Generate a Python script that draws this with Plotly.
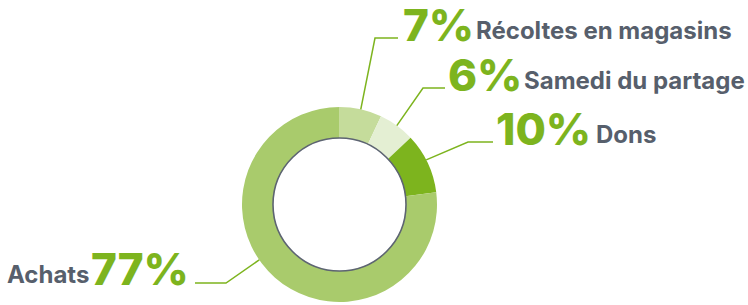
import math
import plotly.graph_objects as go

# ---- data ----
categories = ["Récoltes en magasins", "Samedi du partage", "Dons", "Achats"]
values = [7, 6, 10, 77]
pct_labels = ["7%", "6%", "10%", "77%"]
colors = ["#c5dc9b", "#e4efd3", "#7db41e", "#a9cb6c"]

W, H = 748, 305
CX, CY, R_OUT, R_IN = 339.5, 204.5, 97.5, 66.5
GREEN = "#7db41e"
GRAY = "#575f6c"

def px(x):
    return x / W

def py(y):
    return 1 - y / H

fig = go.Figure(go.Pie(
    values=values, labels=categories, sort=False, direction="clockwise",
    rotation=0, hole=R_IN / R_OUT, marker=dict(colors=colors, line=dict(width=0)),
    textinfo="none", hoverinfo="label+percent", showlegend=False,
    domain=dict(x=[px(CX - R_OUT), px(CX + R_OUT)], y=[py(CY + R_OUT), py(CY - R_OUT)]),
))

# inner outline
fig.add_shape(type="circle", xref="paper", yref="paper",
              x0=px(CX - R_IN), x1=px(CX + R_IN), y0=py(CY + R_IN), y1=py(CY - R_IN),
              line=dict(color="#5d6472", width=1.6), fillcolor="rgba(0,0,0,0)")

# label layout: elbow point, end of horizontal, text positions
label_layout = [
    dict(elbow=(375, 38), end=(398, 38), side="right", off=0, pct_x=401, txt_x=474, pct_y=25, txt_y=31),
    dict(elbow=(423, 88), end=(445, 88), side="right", off=0, pct_x=446, txt_x=522, pct_y=75, txt_y=80),
    dict(elbow=(468, 142), end=(493, 142), side="right", off=-2, pct_x=494, txt_x=594, pct_y=129, txt_y=134),
    dict(elbow=(226, 283), end=(195, 283), side="left", off=14, pct_x=191, txt_x=91, pct_y=269, txt_y=274),
]

PCT_FONT = dict(family="Inter", size=44, color=GREEN, weight=800)
TXT_FONT = dict(family="Inter", size=24, color=GRAY, weight=700)

total = sum(values)
cum = 0
for i, v in enumerate(values):
    mid = (cum + v / 2) / total * 360 + label_layout[i]["off"]
    cum += v
    a = math.radians(mid)
    sx = CX + R_OUT * math.sin(a)
    sy = CY - R_OUT * math.cos(a)
    L = label_layout[i]
    ex, ey = L["elbow"]
    tx, ty = L["end"]
    fig.add_shape(type="path", xref="paper", yref="paper",
                  path=f"M {px(sx)},{py(sy)} L {px(ex)},{py(ey)} L {px(tx)},{py(ty)}",
                  line=dict(color=GREEN, width=1.5))
    anchor = "left" if L["side"] == "right" else "right"
    fig.add_annotation(x=px(L["pct_x"]), y=py(L["pct_y"]), xref="paper", yref="paper",
                       text=pct_labels[i], showarrow=False, xanchor=anchor, yanchor="middle",
                       font=PCT_FONT)
    fig.add_annotation(x=px(L["txt_x"]), y=py(L["txt_y"]), xref="paper", yref="paper",
                       text=categories[i], showarrow=False, xanchor=anchor, yanchor="middle",
                       font=TXT_FONT)

fig.update_layout(width=W, height=H, margin=dict(l=0, r=0, t=0, b=0),
                  paper_bgcolor="white", plot_bgcolor="white")
fig.write_html("out.html", config={"displayModeBar": False},
               post_script="document.body.style.margin='0';")
